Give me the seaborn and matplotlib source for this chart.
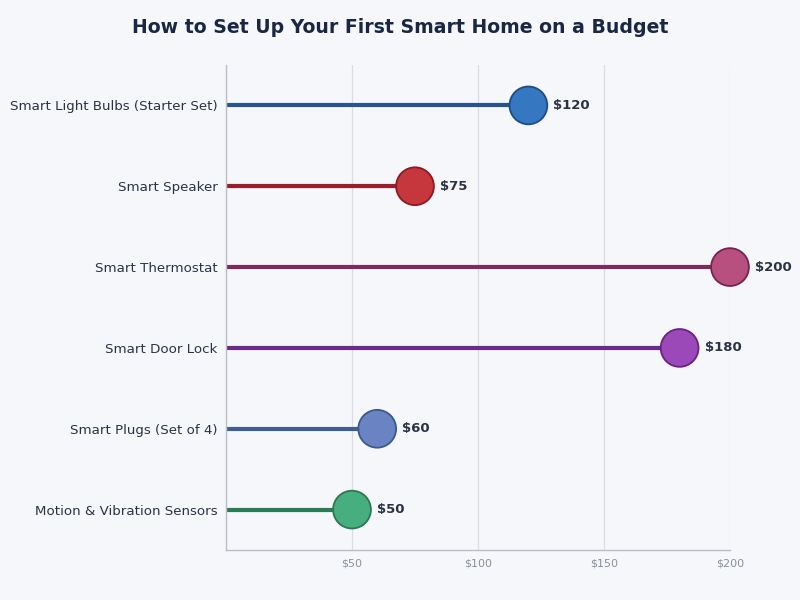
import matplotlib
matplotlib.use("Agg")
import matplotlib.pyplot as plt
import numpy as np
import pandas as pd
import seaborn as sns

# data
items = [
    "Smart Light Bulbs (Starter Set)",
    "Smart Speaker",
    "Smart Thermostat",
    "Smart Door Lock",
    "Smart Plugs (Set of 4)",
    "Motion & Vibration Sensors",
]
costs = [120, 75, 200, 180, 60, 50]
x_ticks = [50, 100, 150, 200]
x_tick_labels = ["$50", "$100", "$150", "$200"]

# colours per item: stem, marker face, marker edge
stem_colors = ["#27568f", "#9a1d29", "#7b2b5c", "#6a2b8b", "#3f5f92", "#2a7b56"]
face_colors = ["#3577c1", "#c5363d", "#b8507f", "#9b48b9", "#6a84c3", "#47ae80"]
edge_colors = ["#1e4c86", "#8a1a23", "#7a2050", "#6b2182", "#3b5a8b", "#2a7a4f"]

BG = "#f5f7fa"
TEXT = "#2a3345"

sns.set_theme(style="white")
plt.rcParams["font.family"] = ["DejaVu Sans"]

df = pd.DataFrame({"item": items, "cost": costs})
df["pos"] = np.arange(len(items))

fig = plt.figure(figsize=(8, 6), dpi=100, facecolor=BG)
ax = fig.add_axes([0.2825, 0.0833, 0.63, 0.8084])
ax.set_facecolor(BG)

# stems
for i, row in df.iterrows():
    ax.plot([0, row["cost"]], [row["pos"], row["pos"]], color=stem_colors[i],
            linewidth=3, solid_capstyle="butt", zorder=2)

# heads
sns.scatterplot(data=df, x="cost", y="pos", hue="item", palette=face_colors,
                s=740, edgecolor=edge_colors, linewidth=1.3, legend=False,
                zorder=3, ax=ax)
for coll in ax.collections:
    coll.set_clip_on(False)

for i, row in df.iterrows():
    ax.annotate(f"${row['cost']}", (row["cost"], row["pos"]),
                xytext=(18, 0), textcoords="offset points",
                ha="left", va="center", fontsize=9.5, fontweight="bold",
                color=TEXT, zorder=4, annotation_clip=False)

ax.set_xlim(0, 200)
ax.set_ylim(5.5, -0.5)
ax.set_xticks(x_ticks)
ax.set_xticklabels(x_tick_labels, fontsize=8, color="#8a909b")
ax.set_yticks(df["pos"])
ax.set_yticklabels(items, fontsize=9.6, color=TEXT)
ax.tick_params(axis="both", length=0)
ax.tick_params(axis="x", pad=6)
ax.tick_params(axis="y", pad=6)
ax.set_xlabel("")
ax.set_ylabel("")

ax.xaxis.grid(True, color="#d9dde3", linewidth=0.9, zorder=0)
ax.set_axisbelow(True)

for side in ["top", "right"]:
    ax.spines[side].set_visible(False)
for side in ["left", "bottom"]:
    ax.spines[side].set_color("#b9bec6")
    ax.spines[side].set_linewidth(1)

fig.suptitle("How to Set Up Your First Smart Home on a Budget",
             x=0.5, y=0.97, fontsize=13.6, fontweight="bold", color="#1a2744")

fig.savefig("out.png", dpi=100, facecolor=BG)
